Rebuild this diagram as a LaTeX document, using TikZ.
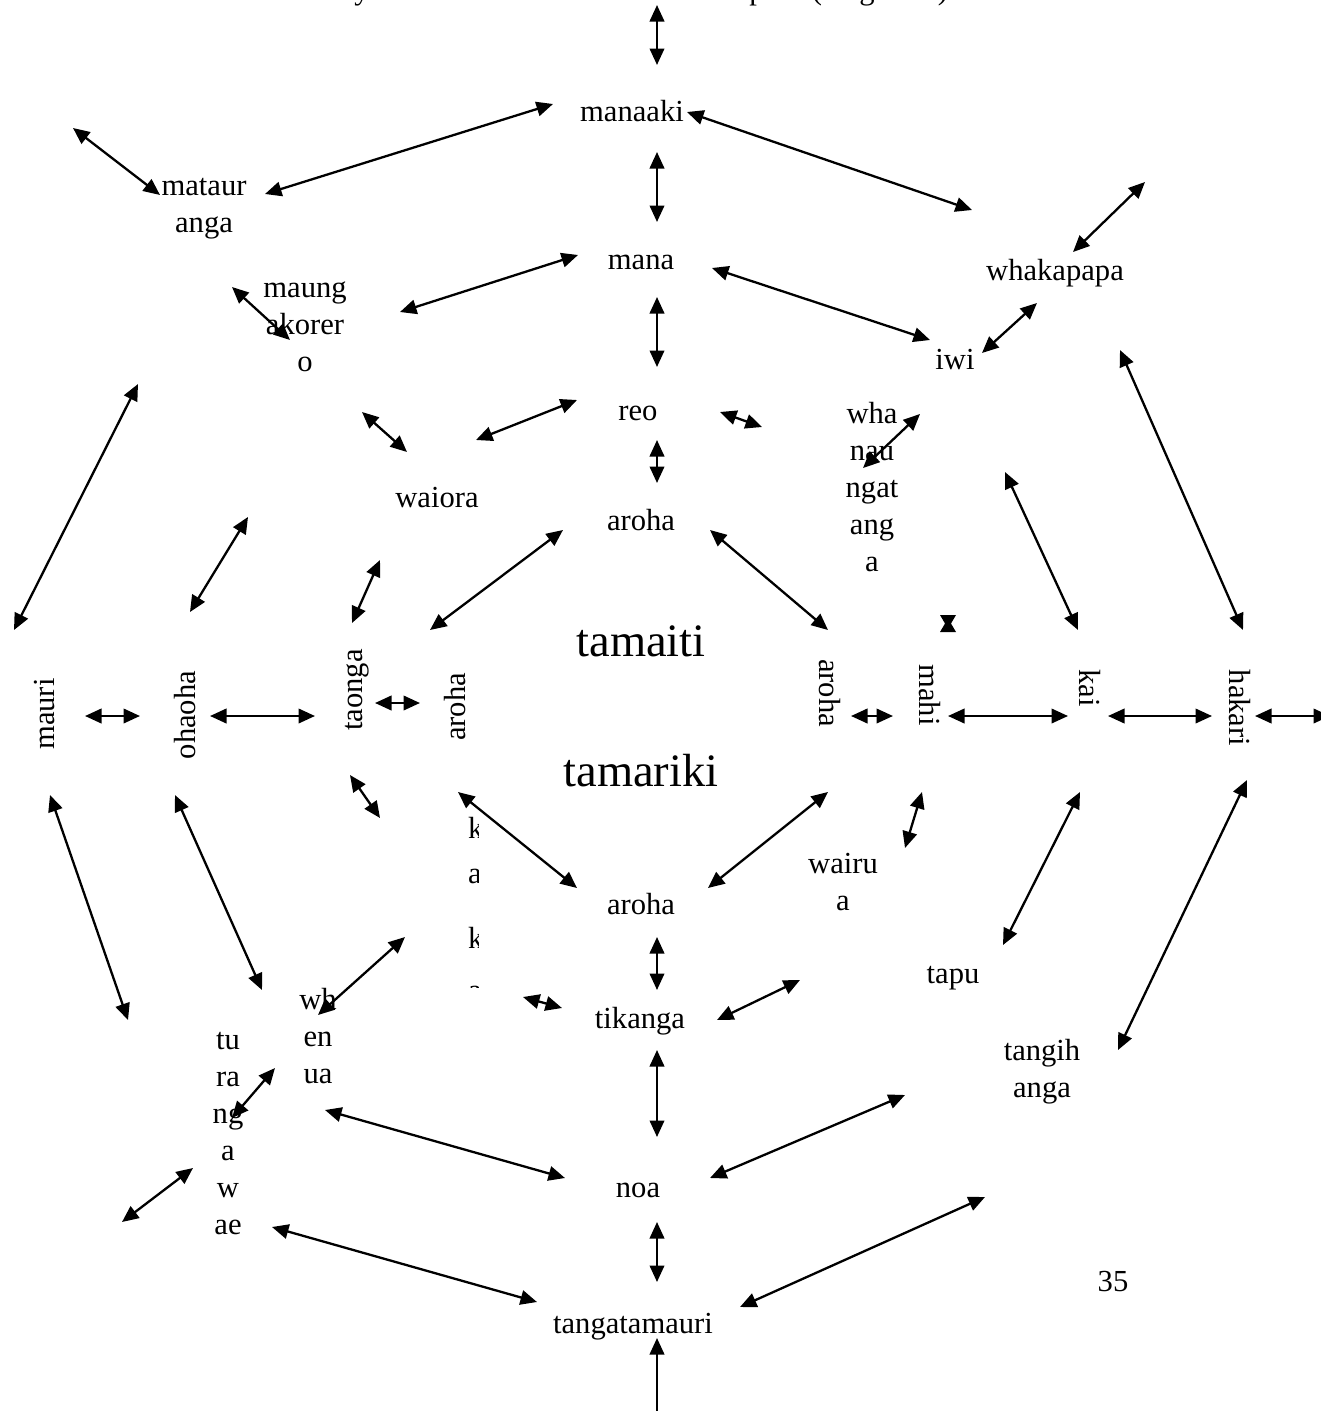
\documentclass[tikz,border=0pt]{standalone}
\usepackage{fontspec}
\setmainfont{Liberation Serif}
\usetikzlibrary{arrows.meta}
\begin{document}
\begin{tikzpicture}[x=1pt,y=-1pt,
  word/.style={inner sep=0pt, font=\fontsize{30.6}{37}\selectfont, align=center},
  bigword/.style={inner sep=0pt, font=\fontsize{46.5}{56}\selectfont},
  link/.style={line width=2.3pt,
    {Triangle[length=16.5pt,width=14.5pt]}-{Triangle[length=16.5pt,width=14.5pt]}}]
\useasboundingbox (0,0) rectangle (1321,1411);
\clip (0,0) rectangle (1321,1411);

% caption line running off the top edge
\node[word, anchor=base] (cap1) at (362,-1) {y};
\node[word, anchor=base] (cap2) at (757,-1) {p};
\node[word, anchor=base] (cap3) at (817,-1) {(};
\node[word, anchor=base] (cap4) at (867,-1) {g};
\node[word, anchor=base] (cap5) at (943,-1) {)};

% horizontal words
\node[word, anchor=base] (manaaki) at (632,121) {manaaki};
\node[word] (mataur) at (204,209) {mataur\\anga};
\node[word] (maung) at (305,327) {maung\\akorer\\o};
\node[word, anchor=base] (mana) at (641,269) {mana};
\node[word, anchor=base] (whakapapa) at (1055,280) {whakapapa};
\node[word, anchor=base] (iwi) at (955,369) {iwi};
\node[word, anchor=base] (reo) at (638,420) {reo};
\node[word] (whanau) at (872,487) {wha\\nau\\ngat\\ang\\a};
\node[word, anchor=base] (waiora) at (437,507) {waiora};
\node[word, anchor=base] (arohaT) at (641,530) {aroha};
\node[bigword, anchor=base] (tamaiti) at (641,656) {tamaiti};
\node[bigword, anchor=base] (tamariki) at (641,786) {tamariki};
\node[word] (wairua) at (843,882) {wairu\\a};
\node[word, anchor=base] (arohaB) at (641,914) {aroha};
\node[word, anchor=base] (tapu) at (953,983) {tapu};
\node[word, anchor=base] (tikanga) at (640,1028) {tikanga};
\node[word] (whenua) at (318,1036) {wh\\en\\ua};
\node[word] (turanga) at (228,1134) {tu\\ra\\ng\\a\\w\\ae};
\node[word] (tangih) at (1042,1072) {tangih\\anga};
\node[word, anchor=base] (noa) at (638,1197) {noa};
\node[word, anchor=base] (pagenum) at (1113,1291) {35};
\node[word, anchor=base] (tangata) at (633,1333) {tangatamauri};

% rotated words along the middle row
\node[word, rotate=90] (mauri) at (45,714) {mauri};
\node[word, rotate=90] (ohaoha) at (185,715) {ohaoha};
\node[word, rotate=90] (taonga) at (357,690) {taonga};
\node[word, rotate=90] (arohaL) at (455,707) {aroha};
\node[word, rotate=-90] (arohaR) at (830,693) {aroha};
\node[word, rotate=-90] (mahi) at (930,695) {mahi};
\node[word, rotate=-90] (kai) at (1090,688) {kai};
\node[word, rotate=-90] (hakari) at (1240,708) {hakari};

% narrow clipped column of letters
\begin{scope}
  \clip (440,780) rectangle (478,987);
  \node[word, anchor=base west] (kk1) at (468,838) {k};
  \node[word, anchor=base west] (kk2) at (468,883) {a};
  \node[word, anchor=base west] (kk3) at (468,948) {k};
  \node[word, anchor=base west] (kk4) at (468,1000) {a};
\end{scope}

% overlapping arrow heads
\fill (940,615) -- (956,615) -- (951,623.5) -- (956,632) -- (940,632) -- (945,623.5) -- cycle;

% double-headed connectors
\foreach \n/\ax/\ay/\bx/\by in {
  top/657/5/657/65,
  a1/553/104/265/194, a2/73/128/160/195, a3/687/112/972/210,
  a4/657/152/657/222, a5/578/255/400/312, a6/232/287/290/340,
  a7/712/268/930/340, a8/1145/182/1073/252, a9/982/353/1037/303,
  a10/657/297/657/367, a11/577/400/476/440, a12/362/412/407/452,
  a13/720/412/762/427, a14/920/414/863/468, a15/657/440/657/483,
  a16/248/517/190/612, a17/380/560/352/623, a18/563/530/430/630,
  a19/710/530/828/630, a20/1005/472/1078/630, a21/1120/350/1243/630,
  a22/138/384/14/630,
  h1/85/716/140/716, h2/210/716/315/716, h3/375/703/420/703,
  h4/851/716/893/716, h5/948/716/1068/716, h6/1108/716/1212/716,
  h7/1255/716/1330/716,
  b1/50/795/128/1020, b2/175/795/262/990, b3/350/775/380/818,
  b4/458/792/577/888, b5/828/792/708/888, b6/922/792/905/848,
  b7/1080/792/1003/945, b8/1247/780/1118/1050, b9/657/937/657/990,
  b10/405/937/318/1015, b11/523/997/562/1008, b12/717/1020/800/980,
  b13/275/1068/232/1118, b14/193/1168/122/1222, b15/657/1050/657/1137,
  b16/325/1110/565/1178, b17/710/1178/905/1095, b18/272/1227/537/1302,
  b19/657/1222/657/1282, b20/740/1307/985/1197, b21/657/1338/657/1440}
{
  \coordinate (\n-s) at (\ax,\ay);
  \coordinate (\n-e) at (\bx,\by);
  \draw[link] (\n-s) -- (\n-e);
}
\end{tikzpicture}
\end{document}
